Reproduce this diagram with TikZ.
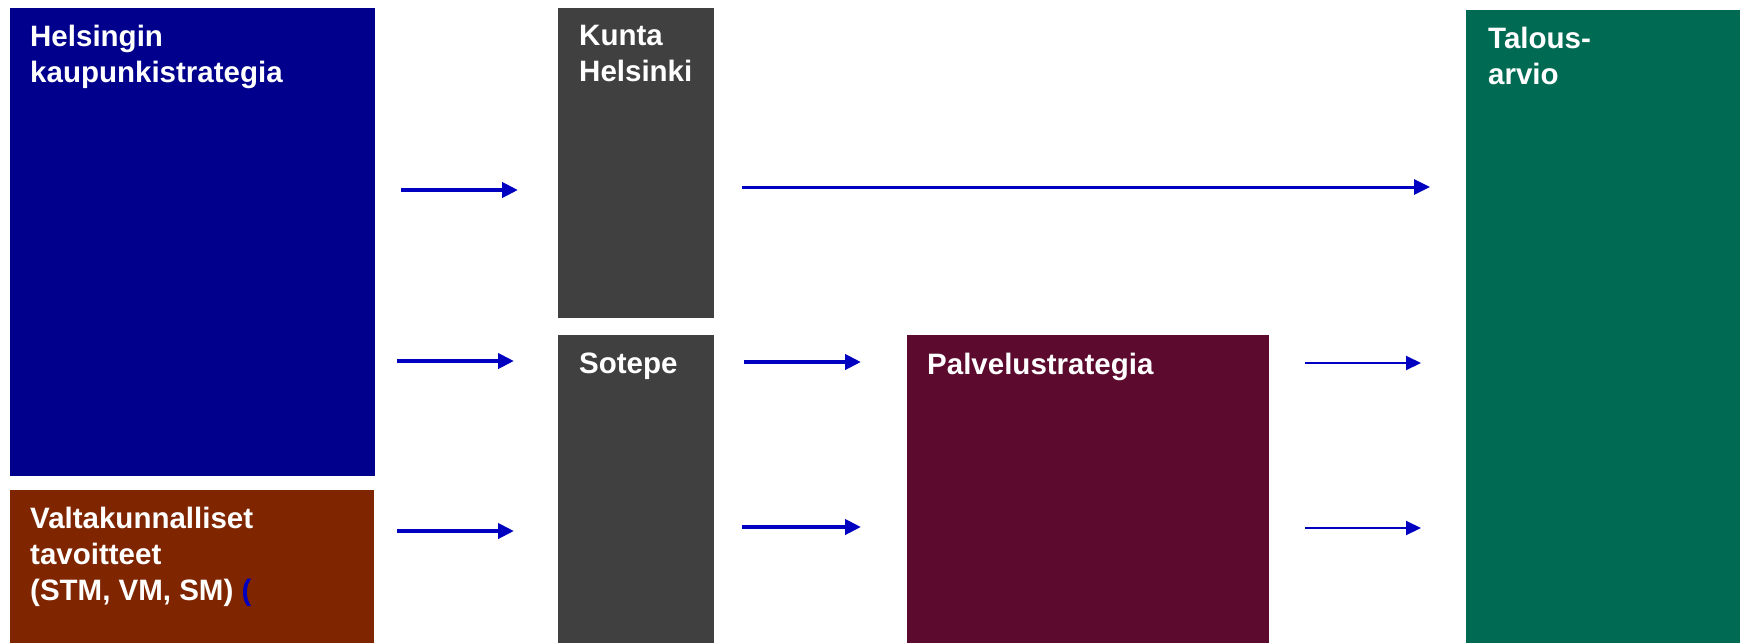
\documentclass[tikz,border=0pt]{standalone}
\usepackage{fontspec}
\setmainfont{Liberation Sans}
\usetikzlibrary{arrows.meta}

\definecolor{hkisin}{HTML}{00008C}
\definecolor{ruskea}{HTML}{7F2600}
\definecolor{harmaa}{HTML}{404040}
\definecolor{viini}{HTML}{5C0A2E}
\definecolor{vihrea}{HTML}{006B52}
\definecolor{nuolisin}{HTML}{0000C0}

\begin{document}
\begin{tikzpicture}[x=1pt, y=-1pt,
        every node/.style={font=\bfseries\fontsize{29.5}{36}\selectfont, text=white},
        laatikko/.style={anchor=north west, inner sep=0pt, outer sep=0pt},
        otsikko/.style={anchor=north west, inner sep=0pt, align=left},
        nuoli/.style={draw=nuolisin, line width=4.5pt, -{Triangle[length=16pt, width=15pt]}},
        ohut/.style={draw=nuolisin, line width=2pt, -{Triangle[length=15pt, width=14pt]}}
    ]
    \useasboundingbox (0,0) rectangle (1740,643);

    % Lahtokohdat
    \node[laatikko, fill=hkisin, minimum width=365pt, minimum height=468pt] (hks) at (10,8) {};
    \node[otsikko] (hksT) at ([shift={(20,17)}]hks.north west) {Helsingin\\kaupunkistrategia};
    \node[laatikko, fill=ruskea, minimum width=364pt, minimum height=153pt] (valt) at (10,490) {};
    \node[otsikko] (valtT) at ([shift={(20,17)}]valt.north west) {Valtakunnalliset\\tavoitteet\\(STM, VM, SM) \textcolor{nuolisin}{(}};

    % Kunta ja Sotepe
    \node[laatikko, fill=harmaa, minimum width=156pt, minimum height=310pt] (kunta) at (558,8) {};
    \node[otsikko] (kuntaT) at ([shift={(21,17)}]kunta.north west) {Kunta\\Helsinki};
    \node[laatikko, fill=harmaa, minimum width=156pt, minimum height=308pt] (sotepe) at (558,335) {};
    \node[otsikko] (sotepeT) at ([shift={(21,18)}]sotepe.north west) {Sotepe};

    % Palvelustrategia
    \node[laatikko, fill=viini, minimum width=362pt, minimum height=308pt] (palvelu) at (907,335) {};
    \node[otsikko] (palveluT) at ([shift={(20,18)}]palvelu.north west) {Palvelustrategia};

    % Talousarvio
    \node[laatikko, fill=vihrea, minimum width=274pt, minimum height=633pt] (talous) at (1466,10) {};
    \node[otsikko] (talousT) at ([shift={(22,17)}]talous.north west) {Talous-\\arvio};

    % Nuolet
    \draw[nuoli, shorten <=26pt, shorten >=40pt] (hks.east |- 0,190) -- (kunta.west |- 0,190);
    \draw[nuoli, shorten <=22pt, shorten >=44pt] (hks.east |- 0,361) -- (sotepe.west |- 0,361);
    \draw[nuoli, shorten <=23pt, shorten >=44pt] (valt.east |- 0,531) -- (sotepe.west |- 0,531);
    \draw[nuoli, line width=3pt, shorten <=28pt, shorten >=36pt] (kunta.east |- 0,187) -- (talous.west |- 0,187);
    \draw[nuoli, line width=4pt, shorten <=30pt, shorten >=46pt] (sotepe.east |- 0,362) -- (palvelu.west |- 0,362);
    \draw[nuoli, line width=4pt, shorten <=28pt, shorten >=46pt] (sotepe.east |- 0,527) -- (palvelu.west |- 0,527);
    \draw[ohut, shorten <=36pt, shorten >=45pt] (palvelu.east |- 0,363) -- (talous.west |- 0,363);
    \draw[ohut, shorten <=36pt, shorten >=45pt] (palvelu.east |- 0,528) -- (talous.west |- 0,528);
\end{tikzpicture}
\end{document}
